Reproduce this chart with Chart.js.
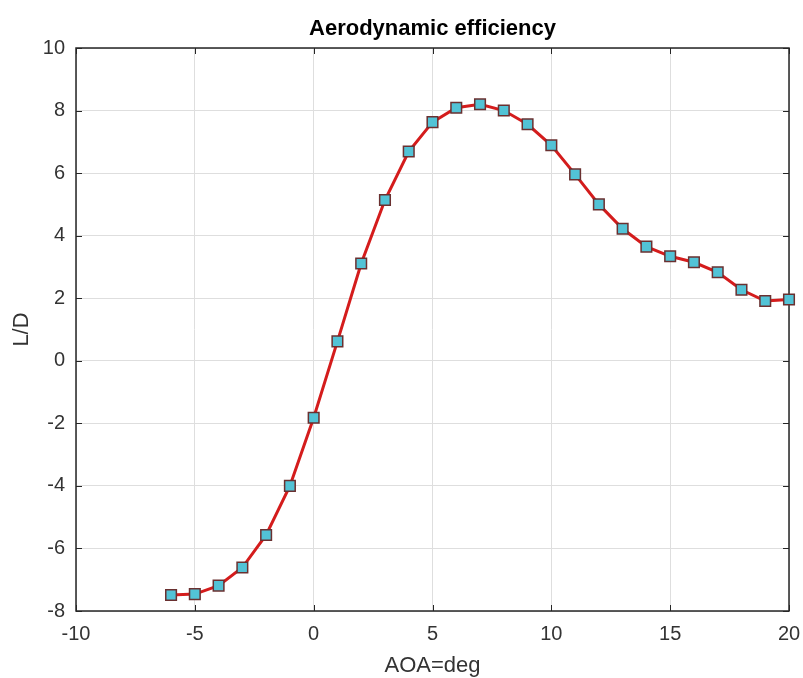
<!DOCTYPE html>
<html><head><meta charset="utf-8">
<script src="https://cdn.jsdelivr.net/npm/chart.js@4.4.0/dist/chart.umd.min.js"></script>
<style>html,body{margin:0;padding:0;background:#fff;}#wrap{width:803px;height:678px;}</style>
</head><body><div id="wrap"><canvas id="c" width="803" height="678"></canvas></div>
<script>
const titleText = "Aerodynamic efficiency";
const xLabel = "AOA=deg";
const yLabel = "L/D";
const aoa = [-6,-5,-4,-3,-2,-1,0,1,2,3,4,5,6,7,8,9,10,11,12,13,14,15,16,17,18,19,20];
const liftToDrag = [-7.49,-7.46,-7.19,-6.61,-5.57,-4.0,-1.82,0.62,3.11,5.14,6.69,7.63,8.09,8.2,8.0,7.56,6.89,5.96,5.0,4.22,3.65,3.34,3.15,2.83,2.27,1.91,1.96];
const xTicks = [-10,-5,0,5,10,15,20];
const yTicks = [-8,-6,-4,-2,0,2,4,6,8,10];

const FONT = "'Liberation Sans', Arial, Helvetica, sans-serif";
const AXIS = '#262626';

const boxPlugin = {
  id: 'box',
  beforeDatasetsDraw(chart) {
    const {ctx, chartArea: a, scales} = chart;
    ctx.save();
    ctx.strokeStyle = AXIS;
    ctx.lineWidth = 1.5;
    ctx.strokeRect(a.left, a.top, a.right - a.left, a.bottom - a.top);
    ctx.lineWidth = 1;
    const L = 6;
    ctx.beginPath();
    scales.x.ticks.forEach(t => {
      const p = Math.round(scales.x.getPixelForValue(t.value)) + 0.5;
      ctx.moveTo(p, a.bottom); ctx.lineTo(p, a.bottom - L);
      ctx.moveTo(p, a.top); ctx.lineTo(p, a.top + L);
    });
    scales.y.ticks.forEach(t => {
      const p = Math.round(scales.y.getPixelForValue(t.value)) + 0.5;
      ctx.moveTo(a.left, p); ctx.lineTo(a.left + L, p);
      ctx.moveTo(a.right, p); ctx.lineTo(a.right - L, p);
    });
    ctx.stroke();
    ctx.restore();
  },
  afterDraw(chart) {
    const {ctx, chartArea: a} = chart;
    ctx.save();
    ctx.fillStyle = '#000';
    ctx.font = 'bold 22px ' + FONT;
    ctx.textAlign = 'center';
    ctx.textBaseline = 'alphabetic';
    ctx.fillText(titleText, (a.left + a.right) / 2, 35);
    ctx.restore();
  }
};

new Chart(document.getElementById('c'), {
  type: 'line',
  data: {
    datasets: [{
      data: aoa.map((x, i) => ({x: x, y: liftToDrag[i]})),
      borderColor: '#d41c1c',
      borderWidth: 3,
      tension: 0,
      pointStyle: 'rect',
      pointRadius: 7.5,
      pointBackgroundColor: '#52c3d6',
      pointBorderColor: '#6a3030',
      pointBorderWidth: 1.5,
      clip: false
    }]
  },
  options: {
    responsive: false,
    devicePixelRatio: 1,
    animation: false,
    layout: {padding: {top: 48, left: 0, right: 14, bottom: 0}},
    plugins: {legend: {display: false}, tooltip: {enabled: false}, title: {display: false}},
    scales: {
      x: {
        type: 'linear', min: -10, max: 20,
        afterBuildTicks: s => { s.ticks = xTicks.map(v => ({value: v})); },
        afterFit: s => { s.height = 67; s.paddingLeft = 0; s.paddingRight = 0; },
        grid: {color: '#dedede', lineWidth: 1, drawTicks: false},
        border: {display: false},
        ticks: {color: '#333', font: {family: FONT, size: 20}, padding: 11, maxRotation: 0},
        title: {display: true, text: xLabel, color: '#333', font: {family: FONT, size: 22, lineHeight: 1}, padding: {top: 0, bottom: 1}}
      },
      y: {
        type: 'linear', min: -8, max: 10,
        afterBuildTicks: s => { s.ticks = yTicks.map(v => ({value: v})); },
        afterFit: s => { s.width = 76; s.paddingTop = 0; s.paddingBottom = 0; },
        grid: {color: '#dedede', lineWidth: 1, drawTicks: false},
        border: {display: false},
        ticks: {color: '#333', font: {family: FONT, size: 20}, padding: 11},
        title: {display: true, text: yLabel, color: '#333', font: {family: FONT, size: 22, lineHeight: 1}, padding: {top: 11, bottom: 0}}
      }
    }
  },
  plugins: [boxPlugin]
});
</script></body></html>
